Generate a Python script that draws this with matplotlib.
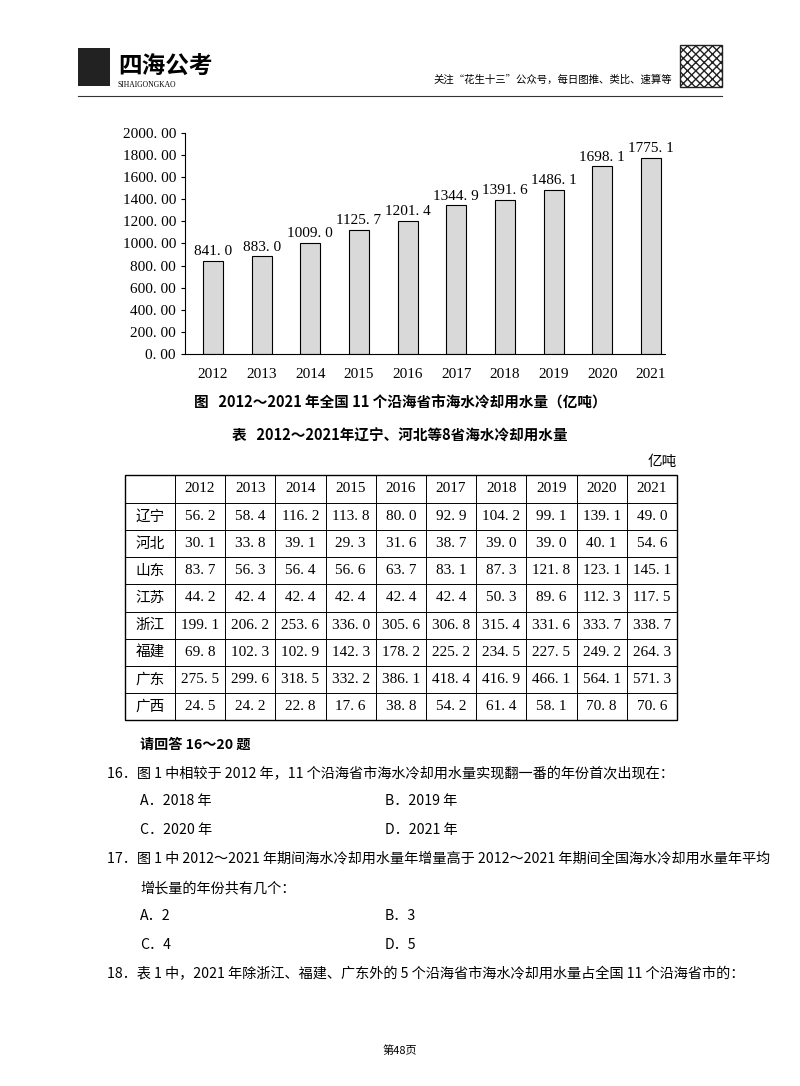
import matplotlib
matplotlib.use("Agg")
import matplotlib.pyplot as plt
from matplotlib.patches import Rectangle

CJK = ['Noto Sans CJK SC', 'DejaVu Sans']
SER = ['Liberation Serif', 'Noto Sans CJK SC']
plt.rcParams['font.family'] = CJK

years = ['2012','2013','2014','2015','2016','2017','2018','2019','2020','2021']
totals = [841.0, 883.0, 1009.0, 1125.7, 1201.4, 1344.9, 1391.6, 1486.1, 1698.1, 1775.1]
provinces = ['辽宁','河北','山东','江苏','浙江','福建','广东','广西']
table_vals = [
    [56.2, 58.4, 116.2, 113.8, 80.0, 92.9, 104.2, 99.1, 139.1, 49.0],
    [30.1, 33.8, 39.1, 29.3, 31.6, 38.7, 39.0, 39.0, 40.1, 54.6],
    [83.7, 56.3, 56.4, 56.6, 63.7, 83.1, 87.3, 121.8, 123.1, 145.1],
    [44.2, 42.4, 42.4, 42.4, 42.4, 42.4, 50.3, 89.6, 112.3, 117.5],
    [199.1, 206.2, 253.6, 336.0, 305.6, 306.8, 315.4, 331.6, 333.7, 338.7],
    [69.8, 102.3, 102.9, 142.3, 178.2, 225.2, 234.5, 227.5, 249.2, 264.3],
    [275.5, 299.6, 318.5, 332.2, 386.1, 418.4, 416.9, 466.1, 564.1, 571.3],
    [24.5, 24.2, 22.8, 17.6, 38.8, 54.2, 61.4, 58.1, 70.8, 70.6],
]
yticks = [0, 200, 400, 600, 800, 1000, 1200, 1400, 1600, 1800, 2000]

def sp(s):
    return s.replace('.', '. ')

W, H = 800, 1086
fig = plt.figure(figsize=(W/100, H/100), dpi=100)
page = fig.add_axes([0, 0, 1, 1])
page.set_xlim(0, W); page.set_ylim(H, 0); page.axis('off')

# header
page.add_patch(Rectangle((78, 48), 32, 38, facecolor='#222', edgecolor='none'))
page.text(118, 66, '四海公考', fontsize=17, fontweight='bold', va='center')
page.text(118, 85, 'SIHAIGONGKAO', fontsize=5.5, va='center', family=SER)
page.text(672, 80, '关注“花生十三”公众号，每日图推、类比、速算等', fontsize=7.5, ha='right', va='center')
page.add_patch(Rectangle((680, 45), 42, 42, facecolor='white', edgecolor='#222', hatch='xxxx', lw=1))
page.plot([78, 722], [96, 96], color='#333', lw=0.8)

# bar chart
ax = fig.add_axes([185/W, 1-354/H, 480/W, (354-133)/H])
x = list(range(len(years)))
ax.bar(x, totals, width=0.41, color='#d9d9d9', edgecolor='black', lw=0.8)
for xi, v in zip(x, totals):
    ax.text(xi, v + 25, sp(f'{v:.1f}'), ha='center', va='bottom', fontsize=11, family=SER)
ax.set_xlim(-0.575, 9.29)
ax.set_ylim(0, 2000)
ax.set_yticks(yticks)
ax.set_yticklabels([sp(f'{t:.2f}') for t in yticks], family=SER, fontsize=11)
ax.set_xticks(x)
ax.set_xticklabels(years, family=SER, fontsize=11)
ax.tick_params(axis='x', length=0, pad=10)
ax.tick_params(axis='y', length=3, direction='out')
for s in ['top', 'right']:
    ax.spines[s].set_visible(False)

page.text(400, 403, '图   2012～2021 年全国 11 个沿海省市海水冷却用水量（亿吨）', fontsize=10.5, fontweight='bold', ha='center', va='center')
page.text(400, 436, '表   2012～2021年辽宁、河北等8省海水冷却用水量', fontsize=10.5, fontweight='bold', ha='center', va='center')
page.text(677, 462, '亿吨', fontsize=10.5, ha='right', va='center')

# table
tl, tr, tt = 125, 677, 475
c0 = 175
cw = (tr - c0) / len(years)
rh0 = 28
rh = (720 - 503) / len(provinces)
bottom = tt + rh0 + rh * len(provinces)
page.add_patch(Rectangle((tl, tt), tr - tl, bottom - tt, fill=False, lw=1.0, ec='black'))
for j in range(len(years) + 1):
    xx = c0 + j * cw
    page.plot([xx, xx], [tt, bottom], color='black', lw=0.7)
for i in range(len(provinces) + 1):
    yy = tt + rh0 + i * rh
    page.plot([tl, tr], [yy, yy], color='black', lw=0.7)
for j, yv in enumerate(years):
    page.text(c0 + (j + .5) * cw, tt + rh0 / 2, yv, family=SER, fontsize=11, ha='center', va='center')
for i, p in enumerate(provinces):
    yc = tt + rh0 + (i + .5) * rh
    page.text((tl + c0) / 2, yc, p, fontsize=10.5, ha='center', va='center')
    for j, v in enumerate(table_vals[i]):
        page.text(c0 + (j + .5) * cw, yc, sp(f'{v:.1f}'), family=SER, fontsize=11, ha='center', va='center')

fs = 10.2
page.text(140, 745, '请回答 16～20 题', fontsize=fs, fontweight='bold', va='center')
page.text(107, 774, '16．图 1 中相较于 2012 年，11 个沿海省市海水冷却用水量实现翻一番的年份首次出现在：', fontsize=fs, va='center')
page.text(140, 801, 'A．2018 年', fontsize=fs, va='center'); page.text(385, 801, 'B．2019 年', fontsize=fs, va='center')
page.text(140, 830, 'C．2020 年', fontsize=fs, va='center'); page.text(385, 830, 'D．2021 年', fontsize=fs, va='center')
page.text(107, 859, '17．图 1 中 2012～2021 年期间海水冷却用水量年增量高于 2012～2021 年期间全国海水冷却用水量年平均', fontsize=fs, va='center')
page.text(140, 888, '增长量的年份共有几个：', fontsize=fs, va='center')
page.text(140, 916, 'A．2', fontsize=fs, va='center'); page.text(385, 916, 'B．3', fontsize=fs, va='center')
page.text(140, 945, 'C．4', fontsize=fs, va='center'); page.text(385, 945, 'D．5', fontsize=fs, va='center')
page.text(107, 974, '18．表 1 中，2021 年除浙江、福建、广东外的 5 个沿海省市海水冷却用水量占全国 11 个沿海省市的：', fontsize=fs, va='center')
page.text(400, 1051, '第48页', fontsize=8, ha='center', va='center')

fig.savefig('out.png', dpi=100)
